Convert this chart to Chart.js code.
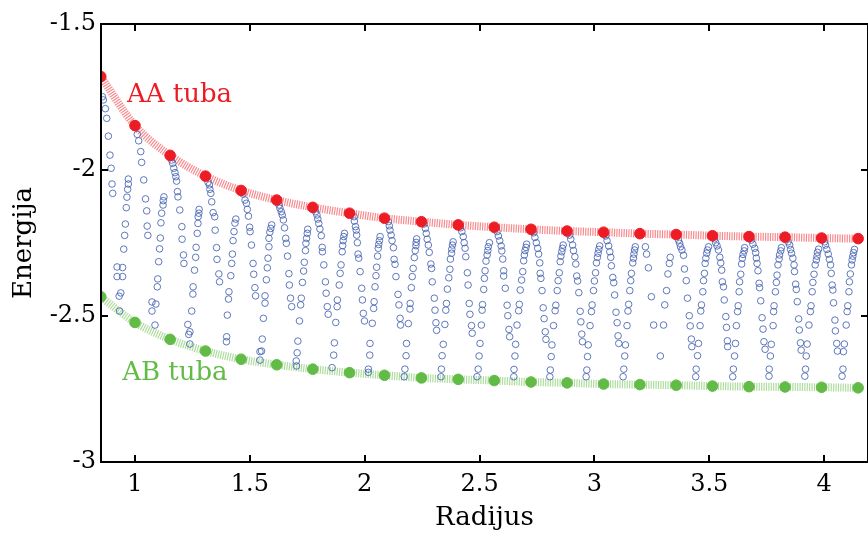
<!DOCTYPE html>
<html>
<head>
<meta charset="utf-8">
<title>Energija tuba</title>
<script src="https://cdn.jsdelivr.net/npm/chart.js@4.4.0/dist/chart.umd.min.js"></script>
<style>
  html, body { margin: 0; padding: 0; background: #fff; }
  #wrap { width: 868px; height: 537px; }
</style>
</head>
<body>
<div id="wrap"><canvas id="chart" width="868" height="537"></canvas></div>
<script>
// radius of the AA / AB tubes and their energies
var tubeRadius = [0.851, 1.000, 1.153, 1.307, 1.462, 1.617, 1.774, 1.934, 2.086, 2.247, 2.407,
                  2.564, 2.724, 2.881, 3.040, 3.198, 3.356, 3.514, 3.673, 3.830, 3.989, 4.148];
var aaEnergy = [-1.680, -1.848, -1.950, -2.021, -2.070, -2.103, -2.128, -2.148, -2.165, -2.177, -2.188,
                -2.196, -2.203, -2.209, -2.213, -2.218, -2.221, -2.225, -2.228, -2.230, -2.233, -2.235];
var abEnergy = [-2.434, -2.522, -2.580, -2.620, -2.648, -2.667, -2.682, -2.694, -2.703, -2.712, -2.717,
                -2.721, -2.726, -2.729, -2.733, -2.735, -2.737, -2.740, -2.742, -2.743, -2.744, -2.746];

var xTicks = [1, 1.5, 2, 2.5, 3, 3.5, 4];
var yTicks = [-3, -2.5, -2, -1.5];

// all other tubes: [radius, energy]
var otherTubes = [
  [0.858,-1.749],[0.862,-1.760],[0.871,-1.790],[0.877,-1.823],[0.884,-1.884],[0.891,-1.949],[0.896,-1.994],[0.900,-2.048],[0.903,-2.080],
  [0.922,-2.332],[0.946,-2.334],[0.922,-2.365],[0.946,-2.365],[0.938,-2.421],[0.931,-2.432],[0.933,-2.483],
  [0.971,-2.031],[0.971,-2.048],[0.968,-2.066],[0.965,-2.093],[0.962,-2.129],[0.958,-2.185],[0.955,-2.224],[0.951,-2.271],
  [1.010,-1.878],[1.016,-1.900],[1.025,-1.937],[1.029,-1.974],[1.038,-2.034],[1.046,-2.099],[1.051,-2.140],[1.053,-2.192],[1.056,-2.224],
  [1.126,-2.092],[1.123,-2.105],[1.122,-2.120],[1.116,-2.148],[1.113,-2.181],[1.110,-2.233],[1.107,-2.270],[1.103,-2.314],[1.099,-2.373],[1.097,-2.400],[1.091,-2.459],[1.074,-2.452],[1.074,-2.483],[1.087,-2.531],
  [1.159,-1.966],[1.164,-1.977],[1.169,-1.994],[1.174,-2.009],[1.178,-2.023],[1.181,-2.038],[1.185,-2.074],[1.187,-2.092],[1.195,-2.137],[1.204,-2.194],[1.205,-2.237],[1.211,-2.291],[1.213,-2.320],
  [1.279,-2.135],[1.278,-2.148],[1.275,-2.160],[1.274,-2.183],[1.271,-2.217],[1.266,-2.265],[1.264,-2.299],[1.259,-2.343],[1.253,-2.400],[1.252,-2.425],[1.247,-2.483],[1.230,-2.529],[1.239,-2.554],[1.234,-2.563],[1.239,-2.596],
  [1.318,-2.042],[1.324,-2.051],[1.326,-2.066],[1.330,-2.080],[1.334,-2.109],[1.340,-2.146],[1.347,-2.160],[1.349,-2.206],[1.355,-2.266],[1.357,-2.306],[1.365,-2.356],[1.368,-2.383],
  [1.439,-2.168],[1.435,-2.182],[1.431,-2.211],[1.427,-2.242],[1.424,-2.288],[1.421,-2.320],[1.417,-2.362],[1.409,-2.417],[1.407,-2.442],[1.402,-2.497],[1.399,-2.571],[1.398,-2.588],
  [1.470,-2.082],[1.479,-2.103],[1.485,-2.114],[1.489,-2.135],[1.494,-2.158],[1.499,-2.196],[1.501,-2.211],[1.507,-2.257],[1.514,-2.320],[1.517,-2.357],[1.522,-2.403],[1.525,-2.431],
  [1.595,-2.188],[1.591,-2.200],[1.587,-2.213],[1.583,-2.234],[1.583,-2.263],[1.579,-2.302],[1.576,-2.335],[1.572,-2.376],[1.566,-2.431],[1.566,-2.456],[1.559,-2.508],[1.554,-2.579],[1.551,-2.620],[1.544,-2.622],[1.544,-2.651],
  [1.627,-2.120],[1.631,-2.131],[1.637,-2.143],[1.641,-2.154],[1.646,-2.171],[1.651,-2.198],[1.656,-2.234],[1.659,-2.251],[1.664,-2.295],[1.670,-2.355],[1.672,-2.394],[1.677,-2.439],[1.682,-2.468],
  [1.752,-2.203],[1.750,-2.217],[1.747,-2.234],[1.744,-2.251],[1.742,-2.276],[1.737,-2.316],[1.734,-2.346],[1.729,-2.385],[1.724,-2.439],[1.721,-2.462],[1.716,-2.517],[1.709,-2.586],[1.706,-2.626],[1.702,-2.654],[1.703,-2.671],
  [1.786,-2.143],[1.792,-2.154],[1.796,-2.168],[1.800,-2.183],[1.805,-2.202],[1.811,-2.225],[1.815,-2.265],[1.816,-2.280],[1.822,-2.325],[1.829,-2.383],[1.832,-2.422],[1.837,-2.468],[1.841,-2.494],
  [1.912,-2.217],[1.909,-2.228],[1.906,-2.242],[1.904,-2.259],[1.902,-2.280],[1.897,-2.325],[1.893,-2.354],[1.889,-2.394],[1.881,-2.445],[1.880,-2.468],[1.874,-2.522],[1.868,-2.592],[1.865,-2.634],[1.858,-2.677],
  [1.954,-2.160],[1.955,-2.175],[1.960,-2.194],[1.963,-2.206],[1.965,-2.223],[1.968,-2.249],[1.971,-2.288],[1.974,-2.302],[1.980,-2.348],[1.987,-2.405],[1.990,-2.445],[1.994,-2.491],[1.999,-2.517],
  [2.067,-2.228],[2.064,-2.242],[2.061,-2.255],[2.059,-2.268],[2.056,-2.295],[2.052,-2.333],[2.049,-2.362],[2.045,-2.400],[2.041,-2.451],[2.039,-2.474],[2.033,-2.525],[2.023,-2.594],[2.022,-2.634],[2.016,-2.682],[2.016,-2.693],
  [2.103,-2.177],[2.107,-2.191],[2.110,-2.206],[2.115,-2.223],[2.119,-2.242],[2.125,-2.266],[2.128,-2.306],[2.132,-2.323],[2.136,-2.365],[2.145,-2.426],[2.149,-2.462],[2.154,-2.508],[2.156,-2.531],
  [2.226,-2.236],[2.224,-2.248],[2.223,-2.259],[2.220,-2.276],[2.216,-2.300],[2.211,-2.337],[2.207,-2.365],[2.203,-2.403],[2.198,-2.457],[2.197,-2.476],[2.190,-2.526],[2.182,-2.594],[2.180,-2.636],[2.175,-2.682],[2.172,-2.708],
  [2.258,-2.185],[2.264,-2.200],[2.268,-2.217],[2.272,-2.237],[2.277,-2.257],[2.281,-2.282],[2.288,-2.322],[2.291,-2.337],[2.294,-2.383],[2.303,-2.439],[2.306,-2.480],[2.310,-2.523],[2.313,-2.549],
  [2.385,-2.246],[2.382,-2.257],[2.379,-2.271],[2.378,-2.285],[2.373,-2.305],[2.371,-2.340],[2.366,-2.369],[2.360,-2.408],[2.356,-2.457],[2.353,-2.480],[2.349,-2.529],[2.342,-2.597],[2.337,-2.636],[2.334,-2.682],[2.332,-2.708],
  [2.417,-2.198],[2.423,-2.211],[2.429,-2.228],[2.433,-2.249],[2.437,-2.268],[2.440,-2.297],[2.447,-2.352],[2.450,-2.394],[2.455,-2.457],[2.458,-2.494],[2.465,-2.533],[2.468,-2.559],
  [2.543,-2.249],[2.538,-2.263],[2.536,-2.276],[2.533,-2.291],[2.528,-2.312],[2.524,-2.345],[2.521,-2.371],[2.518,-2.409],[2.513,-2.461],[2.511,-2.480],[2.508,-2.531],[2.502,-2.594],[2.498,-2.637],[2.494,-2.682],[2.489,-2.708],
  [2.576,-2.211],[2.582,-2.226],[2.588,-2.242],[2.594,-2.260],[2.597,-2.277],[2.601,-2.305],[2.605,-2.345],[2.605,-2.363],[2.612,-2.405],[2.620,-2.463],[2.623,-2.499],[2.628,-2.546],[2.631,-2.571],
  [2.705,-2.254],[2.702,-2.265],[2.698,-2.276],[2.695,-2.291],[2.692,-2.311],[2.688,-2.348],[2.683,-2.377],[2.677,-2.411],[2.673,-2.460],[2.670,-2.482],[2.663,-2.531],[2.657,-2.597],[2.654,-2.637],[2.650,-2.683],[2.649,-2.708],
  [2.735,-2.215],[2.741,-2.231],[2.747,-2.249],[2.753,-2.268],[2.757,-2.288],[2.762,-2.318],[2.764,-2.354],[2.767,-2.371],[2.772,-2.413],[2.777,-2.472],[2.781,-2.509],[2.786,-2.554],[2.789,-2.580],
  [2.864,-2.257],[2.861,-2.268],[2.858,-2.280],[2.854,-2.295],[2.851,-2.314],[2.847,-2.352],[2.842,-2.379],[2.838,-2.413],[2.832,-2.463],[2.829,-2.482],[2.822,-2.533],[2.815,-2.599],[2.812,-2.639],[2.808,-2.685],[2.806,-2.708],
  [2.892,-2.223],[2.897,-2.237],[2.905,-2.257],[2.909,-2.276],[2.915,-2.297],[2.919,-2.322],[2.923,-2.363],[2.927,-2.380],[2.932,-2.420],[2.938,-2.484],[2.941,-2.520],[2.945,-2.562],[2.948,-2.588],
  [3.023,-2.260],[3.019,-2.272],[3.016,-2.285],[3.013,-2.299],[3.009,-2.318],[3.005,-2.352],[3.000,-2.380],[2.996,-2.413],[2.990,-2.462],[2.987,-2.485],[2.981,-2.533],[2.973,-2.599],[2.970,-2.639],[2.967,-2.685],[2.964,-2.708],
  [3.049,-2.226],[3.055,-2.242],[3.062,-2.260],[3.067,-2.280],[3.071,-2.299],[3.074,-2.328],[3.080,-2.368],[3.084,-2.386],[3.088,-2.428],[3.094,-2.487],[3.099,-2.523],[3.103,-2.568],[3.106,-2.594],
  [3.178,-2.263],[3.175,-2.274],[3.172,-2.288],[3.170,-2.302],[3.167,-2.318],[3.161,-2.354],[3.158,-2.379],[3.154,-2.413],[3.149,-2.460],[3.146,-2.483],[3.142,-2.533],[3.135,-2.599],[3.132,-2.637],[3.128,-2.682],[3.125,-2.708],
  [3.222,-2.263],[3.227,-2.288],[3.235,-2.335],[3.248,-2.434],[3.258,-2.531],[3.287,-2.637],[3.301,-2.531],[3.306,-2.462],[3.314,-2.413],[3.320,-2.356],[3.326,-2.320],[3.330,-2.299],
  [3.366,-2.240],[3.371,-2.251],[3.375,-2.263],[3.381,-2.274],[3.388,-2.292],[3.392,-2.339],[3.400,-2.379],[3.405,-2.439],[3.413,-2.499],[3.417,-2.534],[3.422,-2.579],[3.424,-2.605],
  [3.497,-2.263],[3.492,-2.274],[3.489,-2.285],[3.485,-2.302],[3.482,-2.320],[3.479,-2.354],[3.475,-2.379],[3.472,-2.417],[3.466,-2.462],[3.463,-2.483],[3.460,-2.533],[3.453,-2.594],[3.449,-2.636],[3.443,-2.682],[3.441,-2.708],
  [3.523,-2.236],[3.528,-2.249],[3.534,-2.260],[3.540,-2.274],[3.546,-2.299],[3.550,-2.318],[3.554,-2.343],[3.557,-2.383],[3.562,-2.400],[3.565,-2.445],[3.572,-2.502],[3.575,-2.539],[3.579,-2.585],[3.580,-2.605],
  [3.654,-2.266],[3.652,-2.277],[3.647,-2.289],[3.644,-2.302],[3.641,-2.322],[3.637,-2.357],[3.632,-2.383],[3.630,-2.417],[3.626,-2.465],[3.623,-2.485],[3.618,-2.533],[3.614,-2.594],[3.610,-2.637],[3.605,-2.682],[3.602,-2.708],
  [3.683,-2.240],[3.690,-2.254],[3.698,-2.268],[3.702,-2.283],[3.705,-2.302],[3.708,-2.320],[3.712,-2.345],[3.717,-2.388],[3.719,-2.403],[3.724,-2.448],[3.730,-2.506],[3.734,-2.545],[3.738,-2.588],[3.743,-2.614],
  [3.814,-2.266],[3.811,-2.277],[3.806,-2.291],[3.804,-2.305],[3.799,-2.325],[3.795,-2.360],[3.792,-2.385],[3.788,-2.417],[3.782,-2.465],[3.780,-2.485],[3.778,-2.533],[3.770,-2.597],[3.766,-2.637],[3.761,-2.682],[3.760,-2.706],
  [3.843,-2.246],[3.850,-2.257],[3.854,-2.272],[3.858,-2.285],[3.864,-2.302],[3.869,-2.325],[3.871,-2.348],[3.876,-2.391],[3.879,-2.409],[3.883,-2.451],[3.889,-2.510],[3.892,-2.548],[3.897,-2.592],[3.900,-2.617],
  [3.976,-2.271],[3.971,-2.282],[3.969,-2.295],[3.966,-2.308],[3.961,-2.325],[3.956,-2.357],[3.951,-2.385],[3.948,-2.417],[3.943,-2.465],[3.940,-2.485],[3.934,-2.531],[3.926,-2.596],[3.922,-2.637],[3.919,-2.682],[3.916,-2.706],
  [4.002,-2.246],[4.006,-2.257],[4.012,-2.272],[4.018,-2.288],[4.023,-2.306],[4.028,-2.325],[4.031,-2.354],[4.035,-2.394],[4.038,-2.411],[4.041,-2.455],[4.047,-2.514],[4.049,-2.551],[4.055,-2.594],[4.058,-2.620],
  [4.132,-2.272],[4.128,-2.283],[4.125,-2.295],[4.122,-2.308],[4.119,-2.325],[4.114,-2.356],[4.110,-2.383],[4.108,-2.417],[4.103,-2.465],[4.100,-2.485],[4.096,-2.531],[4.088,-2.596],[4.084,-2.622],[4.082,-2.682],[4.078,-2.706]
];

var RED = '#ed1c24';
var GREEN = '#62bb46';
var FONT = '"DejaVu Serif", "Liberation Serif", serif';

function toPoints(xs, ys) {
    return xs.map(function(x, i) { return { x: x, y: ys[i] }; });
}

// series names written next to their curves (anchored in data units)
var seriesNames = [
    { text: 'AA tuba', x: 0.965, y: -1.766, color: RED },
    { text: 'AB tuba', x: 0.944, y: -2.719, color: GREEN }
];

var framePlugin = {
    id: 'frame',
    afterDatasetsDraw: function(chart) {
        var ctx = chart.ctx;
        var a = chart.chartArea;
        var xs = chart.scales.x;
        var ys = chart.scales.y;
        var len = 7;
        ctx.save();
        ctx.strokeStyle = '#000';
        ctx.lineWidth = 2;
        ctx.strokeRect(a.left, a.top, a.right - a.left, a.bottom - a.top);
        ctx.beginPath();
        xTicks.forEach(function(v) {
            var px = Math.round(xs.getPixelForValue(v));
            ctx.moveTo(px, a.bottom);
            ctx.lineTo(px, a.bottom - len);
            ctx.moveTo(px, a.top);
            ctx.lineTo(px, a.top + len);
        });
        yTicks.forEach(function(v) {
            var py = Math.round(ys.getPixelForValue(v));
            ctx.moveTo(a.left, py);
            ctx.lineTo(a.left + len, py);
            ctx.moveTo(a.right, py);
            ctx.lineTo(a.right - len, py);
        });
        ctx.stroke();

        ctx.font = '26px ' + FONT;
        ctx.textBaseline = 'alphabetic';
        ctx.textAlign = 'left';
        seriesNames.forEach(function(s) {
            ctx.fillStyle = s.color;
            ctx.fillText(s.text, xs.getPixelForValue(s.x), ys.getPixelForValue(s.y));
        });
        ctx.restore();
    }
};

Chart.defaults.font.family = FONT;
Chart.defaults.color = '#000';

var ctx = document.getElementById('chart').getContext('2d');
var chart = new Chart(ctx, {
    type: 'scatter',
    data: {
        datasets: [
            {
                label: 'AA',
                data: toPoints(tubeRadius, aaEnergy),
                showLine: true,
                borderColor: 'rgba(240, 60, 66, 0.6)',
                borderWidth: 8,
                borderDash: [1.2, 1.2],
                cubicInterpolationMode: 'monotone',
                pointRadius: 0,
                order: 3
            },
            {
                label: 'AB',
                data: toPoints(tubeRadius, abEnergy),
                showLine: true,
                borderColor: 'rgba(120, 196, 92, 0.6)',
                borderWidth: 8,
                borderDash: [1.2, 1.2],
                cubicInterpolationMode: 'monotone',
                pointRadius: 0,
                order: 3
            },
            {
                label: 'ostale',
                data: otherTubes.map(function(p) { return { x: p[0], y: p[1] }; }),
                pointRadius: 3.3,
                pointBorderWidth: 1,
                pointBorderColor: 'rgba(68, 98, 178, 0.85)',
                pointBackgroundColor: 'rgba(0, 0, 0, 0)',
                order: 2
            },
            {
                label: 'AA tuba',
                data: toPoints(tubeRadius, aaEnergy),
                pointRadius: 5.3,
                pointBorderWidth: 1,
                pointBackgroundColor: RED,
                pointBorderColor: RED,
                order: 1
            },
            {
                label: 'AB tuba',
                data: toPoints(tubeRadius, abEnergy),
                pointRadius: 5.3,
                pointBorderWidth: 1,
                pointBackgroundColor: GREEN,
                pointBorderColor: GREEN,
                order: 1
            }
        ]
    },
    options: {
        responsive: false,
        animation: false,
        events: [],
        layout: { autoPadding: false, padding: { top: 24, right: -2, bottom: 0, left: 0 } },
        plugins: {
            legend: { display: false },
            tooltip: { enabled: false }
        },
        scales: {
            x: {
                type: 'linear',
                min: 0.852,
                max: 4.191,
                afterFit: function(s) { s.height = 75; },
                afterBuildTicks: function(s) {
                    s.ticks = xTicks.map(function(v) { return { value: v }; });
                },
                grid: { display: false, drawTicks: false },
                border: { display: false },
                ticks: {
                    padding: 8,
                    maxRotation: 0,
                    autoSkip: false,
                    font: { size: 24 },
                    callback: function(v) { return String(v); }
                },
                title: {
                    display: true,
                    text: 'Radijus',
                    font: { size: 26 },
                    padding: { top: 0, bottom: 3 }
                }
            },
            y: {
                type: 'linear',
                min: -3,
                max: -1.5,
                afterFit: function(s) { s.width = 101; },
                afterBuildTicks: function(s) {
                    s.ticks = yTicks.map(function(v) { return { value: v }; });
                },
                grid: { display: false, drawTicks: false },
                border: { display: false },
                ticks: {
                    padding: 5,
                    font: { size: 24 },
                    callback: function(v) { return String(v); }
                },
                title: {
                    display: true,
                    text: 'Energija',
                    font: { size: 26 },
                    padding: { top: 9, bottom: 0 }
                }
            }
        }
    },
    plugins: [framePlugin]
});
</script>
</body>
</html>
